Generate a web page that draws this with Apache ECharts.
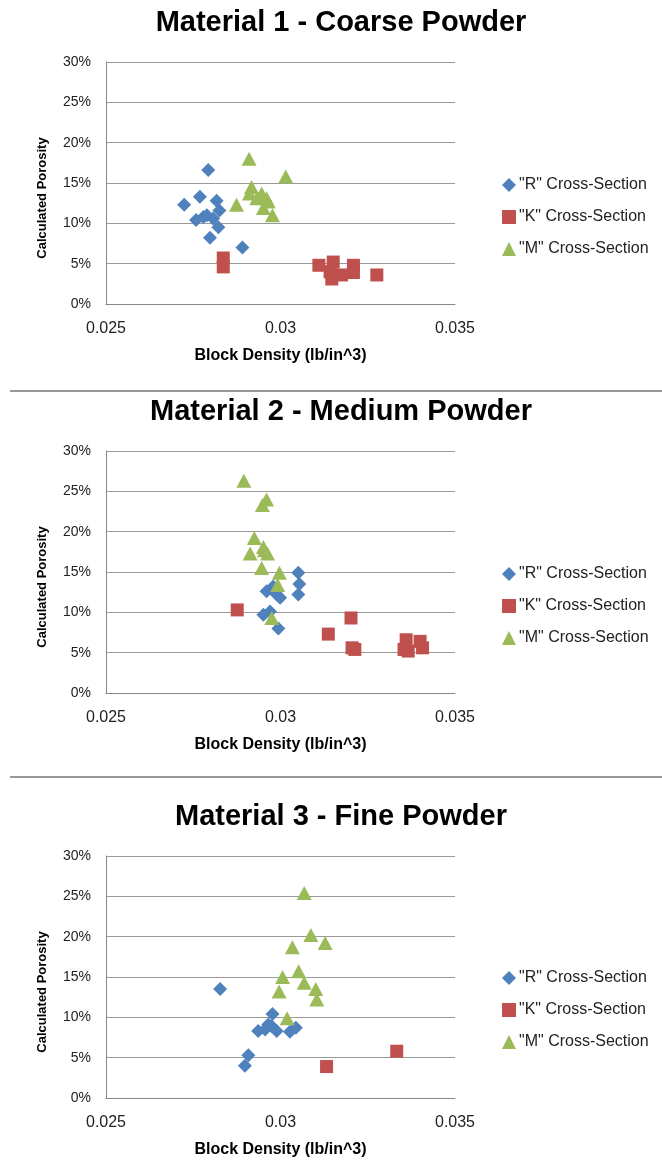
<!DOCTYPE html>
<html>
<head>
<meta charset="utf-8">
<script src="https://cdn.jsdelivr.net/npm/echarts@6/dist/echarts.min.js"></script>
<style>html,body{margin:0;padding:0;background:#fff}#c{width:662px;height:1168px}</style>
</head>
<body>
<div id="c"></div>
<script>
// ---- Data (x = block density lb/in^3, y = porosity fraction) ----
const titles = ["Material 1 - Coarse Powder", "Material 2 - Medium Powder", "Material 3 - Fine Powder"];
const seriesNames = ['"R" Cross-Section', '"K" Cross-Section', '"M" Cross-Section'];
const xTicks = [0.025, 0.03, 0.035];
const yTicks = [0, 0.05, 0.10, 0.15, 0.20, 0.25, 0.30];

const m1_R = [[0.02793,0.166],[0.02769,0.133],[0.02724,0.123],[0.02817,0.128],[0.02825,0.116],[0.02789,0.110],
              [0.02758,0.104],[0.02807,0.106],[0.02822,0.095],[0.02798,0.082],[0.02891,0.070],[0.02779,0.108]];
const m1_K = [[0.02836,0.057],[0.02836,0.046],[0.03110,0.048],[0.03151,0.052],[0.03147,0.031],[0.03175,0.036],
              [0.03209,0.048],[0.03209,0.039],[0.03276,0.036],[0.03142,0.040]];
const m1_M = [[0.02910,0.180],[0.03015,0.158],[0.02917,0.145],[0.02911,0.137],[0.02946,0.137],[0.02960,0.131],
              [0.02932,0.131],[0.02874,0.123],[0.02951,0.119],[0.02977,0.110],[0.02965,0.127]];

const m2_R = [[0.03051,0.149],[0.03054,0.135],[0.03051,0.122],[0.02979,0.132],[0.02960,0.126],[0.02989,0.122],
              [0.02999,0.118],[0.02951,0.097],[0.02970,0.101],[0.02994,0.080]];
const m2_K = [[0.02876,0.103],[0.03202,0.093],[0.03137,0.073],[0.03213,0.054],[0.03360,0.066],[0.03400,0.064],
              [0.03366,0.052],[0.03407,0.056],[0.03354,0.054],[0.03205,0.056]];
const m2_M = [[0.02895,0.263],[0.02960,0.240],[0.02948,0.233],[0.02925,0.192],[0.02913,0.173],[0.02951,0.181],
              [0.02963,0.173],[0.02946,0.155],[0.02997,0.149],[0.02992,0.134],[0.02975,0.093],[0.02954,0.177]];

const m3_R = [[0.02827,0.135],[0.02977,0.104],[0.02965,0.091],[0.02936,0.083],[0.02956,0.085],[0.02989,0.083],
              [0.03027,0.082],[0.03044,0.087],[0.02975,0.089],[0.02908,0.053],[0.02898,0.040]];
const m3_K = [[0.03132,0.039],[0.03333,0.058]];
const m3_M = [[0.03068,0.254],[0.03087,0.202],[0.03128,0.192],[0.03034,0.187],[0.03052,0.157],[0.03006,0.150],
              [0.03068,0.143],[0.02996,0.132],[0.03101,0.135],[0.03104,0.122],[0.03019,0.099]];

const allData = [[m1_R, m1_K, m1_M], [m2_R, m2_K, m2_M], [m3_R, m3_K, m3_M]];

// ---- Styling ----
const FONT = '"Liberation Sans", Arial, sans-serif';
const colors = ['#4F81BD', '#C0504D', '#9BBB59'];
const symbols = ['diamond', 'rect', 'triangle'];
const symSizes = [[14,14], [13,13], [15,14]];
const gridTops = [62, 451, 856];
const titleTops = [3, 392, 797];
const legendTops = [172, 561, 965];
const sepY = [391, 777];

const option = {
  backgroundColor: '#fff',
  animation: false,
  title: [], legend: [], grid: [], xAxis: [], yAxis: [], series: [],
  graphic: sepY.map(y => ({
    type: 'line', shape: {x1: 10, y1: y, x2: 662, y2: y},
    style: {stroke: '#999', lineWidth: 2}
  }))
};

for (let i = 0; i < 3; i++) {
  option.title.push({
    text: titles[i], left: 336, textAlign: 'center', top: titleTops[i],
    textStyle: {fontFamily: FONT, fontSize: 29, fontWeight: 'bold', color: '#000'}
  });
  option.grid.push({left: 106, right: 207, top: gridTops[i], height: 242});
  option.xAxis.push({
    type: 'value', gridIndex: i, min: xTicks[0], max: xTicks[xTicks.length-1], interval: 0.005,
    name: 'Block Density (lb/in^3)', nameLocation: 'middle', nameGap: 44,
    nameTextStyle: {fontFamily: FONT, fontSize: 16, fontWeight: 'bold', color: '#000'},
    axisLine: {show: true, lineStyle: {color: '#888', width: 1}},
    axisTick: {show: false},
    splitLine: {show: false},
    axisLabel: {fontFamily: FONT, fontSize: 16, color: '#222', margin: 17,
                formatter: v => String(+v.toFixed(3))}
  });
  option.yAxis.push({
    type: 'value', gridIndex: i, min: yTicks[0], max: yTicks[yTicks.length-1], interval: 0.05,
    name: 'Calculated Porosity', nameLocation: 'middle', nameGap: 57, nameRotate: 90,
    nameTextStyle: {fontFamily: FONT, fontSize: 13, fontWeight: 'bold', color: '#000', padding: [0, 30, 0, 0]},
    axisLine: {show: true, lineStyle: {color: '#888', width: 1}},
    axisTick: {show: false},
    splitLine: {show: true, lineStyle: {color: '#999', width: 1}},
    axisLabel: {fontFamily: FONT, fontSize: 14, color: '#222', margin: 15,
                formatter: v => Math.round(v * 100) + '%'}
  });
  option.legend.push({
    orient: 'vertical', left: 497, top: legendTops[i], itemGap: 16,
    itemWidth: 14, itemHeight: 14,
    data: seriesNames,
    textStyle: {fontFamily: FONT, fontSize: 16, color: '#222', padding: [0, 0, 0, -2]}
  });
  for (let s = 0; s < 3; s++) {
    option.series.push({
      type: 'scatter', name: seriesNames[s], xAxisIndex: i, yAxisIndex: i,
      symbol: symbols[s], symbolSize: symSizes[s],
      itemStyle: {color: colors[s], opacity: 1},
      data: allData[i][s]
    });
  }
}

const chart = echarts.init(document.getElementById('c'), null, {renderer: 'canvas'});
chart.setOption(option);
</script>
</body>
</html>
